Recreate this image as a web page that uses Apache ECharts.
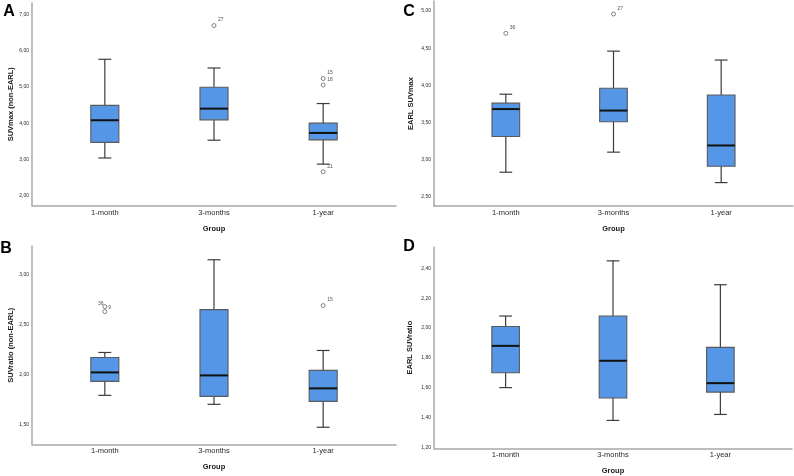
<!DOCTYPE html>
<html><head><meta charset="utf-8">
<script src="https://cdn.jsdelivr.net/npm/echarts@6/dist/echarts.min.js"></script>
<style>html,body{margin:0;padding:0;background:#fff}#c{width:794px;height:476px}</style>
</head><body><div id="c"></div>
<script>
const categories = ['1-month', '3-months', '1-year'];
const xAxisName = 'Group';

// Each row: [low whisker, Q1, median, Q3, high whisker], one row per group
const suvmaxNonEarl = [
  [3.04, 3.47, 4.08, 4.49, 5.76],
  [3.53, 4.09, 4.40, 4.99, 5.52],
  [2.87, 3.54, 3.73, 4.00, 4.54]
];
// [group number (1..3), value, case label]
const suvmaxNonEarlOutliers = [[2, 6.69, '27'], [3, 5.23, '15'], [3, 5.05, '18'], [3, 2.66, '21']];
const suvmaxNonEarlTicks = [2, 3, 4, 5, 6, 7];

const earlSuvmax = [
  [2.83, 3.31, 3.68, 3.76, 3.88],
  [3.10, 3.51, 3.66, 3.96, 4.46],
  [2.69, 2.91, 3.19, 3.87, 4.34]
];
const earlSuvmaxOutliers = [[1, 4.70, '36'], [2, 4.96, '27']];
const earlSuvmaxTicks = [2.5, 3, 3.5, 4, 4.5, 5];

const suvratioNonEarl = [
  [1.79, 1.93, 2.02, 2.17, 2.22],
  [1.70, 1.78, 1.99, 2.65, 3.15],
  [1.47, 1.73, 1.86, 2.04, 2.24]
];
const suvratioNonEarlOutliers = [[1, 2.68, '9'], [1, 2.63, '36'], [3, 2.69, '15']];
const suvratioNonEarlTicks = [1.5, 2, 2.5, 3];

const earlSuvratio = [
  [1.60, 1.70, 1.88, 2.01, 2.08],
  [1.38, 1.53, 1.78, 2.08, 2.45],
  [1.42, 1.57, 1.63, 1.87, 2.29]
];
const earlSuvratioOutliers = [];
const earlSuvratioTicks = [1.2, 1.4, 1.6, 1.8, 2.0, 2.2, 2.4];

const FONT = '"Liberation Sans", Arial, sans-serif';

const panels = [
  { letter: 'A', lx: 9, ly: 12, grid: { left: 32, top: 3, width: 364, height: 202.5 }, yMin: 1.730, yMax: 7.311,
    ticks: suvmaxNonEarlTicks, yName: 'SUVmax (non-EARL)', yGap: 16, boxes: suvmaxNonEarl, outliers: suvmaxNonEarlOutliers },
  { letter: 'C', lx: 409, ly: 11.5, grid: { left: 434, top: 1, width: 359, height: 205 }, yMin: 2.375, yMax: 5.135,
    ticks: earlSuvmaxTicks, yName: 'EARL SUVmax', yGap: 19, boxes: earlSuvmax, outliers: earlSuvmaxOutliers },
  { letter: 'B', lx: 6, ly: 248.5, grid: { left: 32, top: 246, width: 364, height: 198.3 }, yMin: 1.299, yMax: 3.288,
    ticks: suvratioNonEarlTicks, yName: 'SUVratio (non-EARL)', yGap: 16, boxes: suvratioNonEarl, outliers: suvratioNonEarlOutliers },
  { letter: 'D', lx: 409, ly: 247, grid: { left: 434, top: 247, width: 358, height: 201.3 }, yMin: 1.193, yMax: 2.543,
    ticks: earlSuvratioTicks, yName: 'EARL SUVratio', yGap: 20, boxes: earlSuvratio, outliers: earlSuvratioOutliers }
];

const labelPlacement = {
  // per-panel, per-case label placement relative to the outlier marker
  '2-9': { position: 'right', distance: 1, offset: [0, 1] },
  '2-36': { position: 'top', distance: 3, offset: [-4, 0] }
};

function renderBox(params, api) {
  const x = api.value(0);
  const pLow = api.coord([x, api.value(1)]);
  const pQ1 = api.coord([x, api.value(2)]);
  const pMed = api.coord([x, api.value(3)]);
  const pQ3 = api.coord([x, api.value(4)]);
  const pHigh = api.coord([x, api.value(5)]);
  const unit = api.size([1, 0])[0];
  const bw = unit * 0.257;
  const cw = bw * 0.46;
  const cx = pMed[0];
  const wStyle = { stroke: '#3c3c3c', lineWidth: 1.2 };
  return {
    type: 'group',
    children: [
      { type: 'line', shape: { x1: cx, y1: pHigh[1], x2: cx, y2: pQ3[1] }, style: wStyle },
      { type: 'line', shape: { x1: cx, y1: pQ1[1], x2: cx, y2: pLow[1] }, style: wStyle },
      { type: 'line', shape: { x1: cx - cw / 2, y1: pHigh[1], x2: cx + cw / 2, y2: pHigh[1] }, style: wStyle },
      { type: 'line', shape: { x1: cx - cw / 2, y1: pLow[1], x2: cx + cw / 2, y2: pLow[1] }, style: wStyle },
      { type: 'rect', shape: { x: cx - bw / 2, y: pQ3[1], width: bw, height: pQ1[1] - pQ3[1] },
        style: { fill: '#5596e6', stroke: '#5a5a5a', lineWidth: 1.1 } },
      { type: 'line', shape: { x1: cx - bw / 2, y1: pMed[1], x2: cx + bw / 2, y2: pMed[1] },
        style: { stroke: '#111', lineWidth: 2 } }
    ]
  };
}

const grids = [], xAxes = [], yAxes = [], series = [], graphics = [];
panels.forEach((p, i) => {
  grids.push(Object.assign({ outerBoundsMode: 'none', containLabel: false }, p.grid));
  xAxes.push({
    type: 'value', gridIndex: i, min: 0.333, max: 3.667,
    name: xAxisName, nameLocation: 'middle', nameGap: 19,
    nameTextStyle: { fontFamily: FONT, fontSize: 7.5, fontWeight: 'bold', color: '#1a1a1a' },
    axisLine: { show: true, onZero: false, lineStyle: { color: '#a8a8a8', width: 1.5 } },
    axisTick: { show: false }, splitLine: { show: false },
    axisLabel: { customValues: [1, 2, 3], margin: 3, fontFamily: FONT, fontSize: 7.5, color: '#2a2a2a',
      formatter: v => categories[Math.round(v) - 1] || '' }
  });
  yAxes.push({
    type: 'value', gridIndex: i, min: p.yMin, max: p.yMax,
    name: p.yName, nameLocation: 'middle', nameGap: p.yGap, nameRotate: 90,
    nameTextStyle: { fontFamily: FONT, fontSize: 7.5, fontWeight: 'bold', color: '#1a1a1a' },
    axisLine: { show: true, lineStyle: { color: '#a8a8a8', width: 1.5 } },
    axisTick: { show: false }, splitLine: { show: false },
    axisLabel: { customValues: p.ticks, margin: 3, fontFamily: FONT, fontSize: 5, color: '#2a2a2a',
      formatter: v => v.toFixed(2).replace('.', ',') }
  });
  series.push({
    type: 'custom', xAxisIndex: i, yAxisIndex: i, renderItem: renderBox, silent: true,
    encode: { x: 0, y: [1, 2, 3, 4, 5] },
    data: p.boxes.map((b, k) => [k + 1].concat(b)), z: 2
  });
  series.push({
    type: 'scatter', xAxisIndex: i, yAxisIndex: i, silent: true, z: 3,
    symbol: 'circle', symbolSize: 4,
    itemStyle: { color: '#fff', borderColor: '#555', borderWidth: 0.9 },
    label: { show: true, position: 'right', distance: 1.5, offset: [0, -5.5], fontFamily: FONT, fontSize: 5,
      color: '#222', formatter: d => d.value[2] },
    data: p.outliers.map(o => {
      const item = { value: o };
      const lp = labelPlacement[i + '-' + o[2]];
      if (lp) item.label = lp;
      return item;
    })
  });
  graphics.push({ type: 'text', x: p.lx, y: p.ly,
    style: { text: p.letter, font: 'bold 16px ' + FONT, fill: '#000', align: 'center', verticalAlign: 'middle' } });
});

const chart = echarts.init(document.getElementById('c'), null, { renderer: 'canvas' });
chart.setOption({
  animation: false,
  backgroundColor: '#fff',
  grid: grids, xAxis: xAxes, yAxis: yAxes, series: series, graphic: graphics
});
</script></body></html>
